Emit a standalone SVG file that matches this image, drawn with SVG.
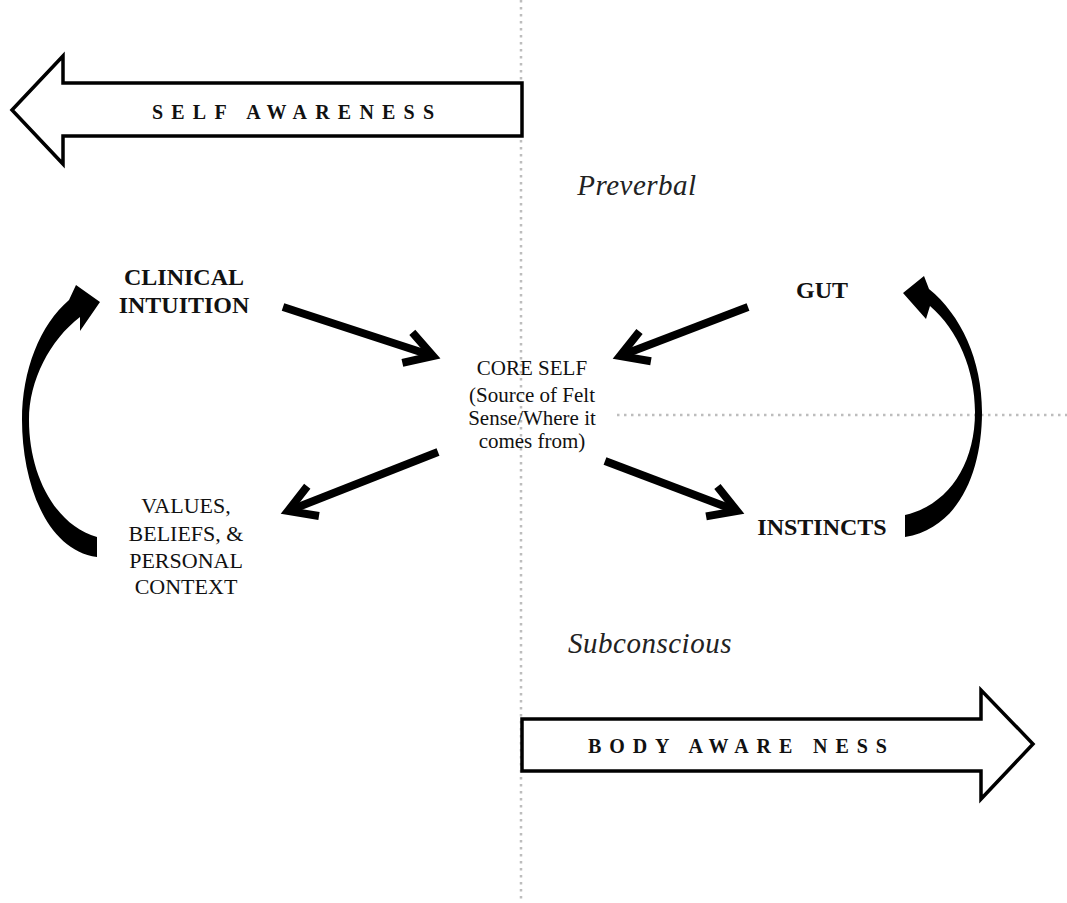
<svg xmlns="http://www.w3.org/2000/svg" width="1067" height="903" viewBox="0 0 1067 903">
<defs>
<style>
.t{font-family:"Liberation Serif","Times New Roman",serif;fill:#111}
.b{font-weight:bold}
.it{font-style:italic;fill:#222}
.dot{stroke:#bdbdbd;stroke-width:2.5;stroke-dasharray:2.5 4.5;fill:none}
.blk{fill:#fff;stroke:#000;stroke-width:3.5;stroke-linejoin:miter}
.ln{stroke:#000;stroke-width:8;fill:none;marker-end:url(#chev)}
.crv{fill:#000;stroke:none}
</style>
<marker id="chev" markerUnits="userSpaceOnUse" markerWidth="80" markerHeight="80" viewBox="-40 -40 80 80" refX="0" refY="0" orient="auto" overflow="visible">
<path d="M-27,-16 L0,0 L-27,16" fill="none" stroke="#000" stroke-width="8" stroke-linejoin="miter" stroke-linecap="butt"/>
</marker>
</defs>
<rect width="1067" height="903" fill="#fff"/>

<g id="guides">
<line class="dot" x1="521" y1="0" x2="521" y2="903"/>
<line class="dot" x1="617" y1="415" x2="1067" y2="415"/>
</g>

<g id="self-awareness">
<path class="blk" d="M12,110 L63,56 L63,83 L522,83 L522,136 L63,136 L63,164 Z"/>
<text class="t b" x="152" y="119" font-size="20" letter-spacing="8.2">SELF AWARENESS</text>
</g>

<g id="body-awareness">
<path class="blk" d="M522,719 L981,719 L981,690 L1033,744 L981,799 L981,771 L522,771 Z"/>
<text class="t b" x="588" y="753" font-size="20" letter-spacing="7.9">BODY AWARE NESS</text>
</g>

<g id="preverbal"><text class="t it" x="637" y="195" font-size="29" text-anchor="middle" letter-spacing="0.5">Preverbal</text></g>
<g id="subconscious"><text class="t it" x="650" y="653" font-size="29" text-anchor="middle" letter-spacing="0.5">Subconscious</text></g>

<g id="clinical-intuition">
<text class="t b" x="184" y="285" font-size="24" text-anchor="middle">CLINICAL</text>
<text class="t b" x="184" y="313" font-size="24" text-anchor="middle">INTUITION</text>
</g>

<g id="gut"><text class="t b" x="822" y="298" font-size="24" text-anchor="middle">GUT</text></g>

<g id="instincts"><text class="t b" x="822" y="535" font-size="24" text-anchor="middle">INSTINCTS</text></g>

<g id="values">
<text class="t" x="186" y="513" font-size="22" text-anchor="middle">VALUES,</text>
<text class="t" x="186" y="541" font-size="22" text-anchor="middle">BELIEFS, &amp;</text>
<text class="t" x="186" y="568" font-size="22" text-anchor="middle">PERSONAL</text>
<text class="t" x="186" y="594" font-size="22" text-anchor="middle">CONTEXT</text>
</g>

<g id="core-self">
<text class="t" x="532" y="375" font-size="21" text-anchor="middle">CORE SELF</text>
<text class="t" x="532" y="402" font-size="21" text-anchor="middle">(Source of Felt</text>
<text class="t" x="532" y="425" font-size="21" text-anchor="middle">Sense/Where it</text>
<text class="t" x="532" y="448" font-size="21" text-anchor="middle">comes from)</text>
</g>

<g id="connectors">
<line class="ln" x1="283" y1="307" x2="433" y2="356"/>
<line class="ln" x1="748" y1="307" x2="620" y2="356"/>
<line class="ln" x1="438" y1="452" x2="288" y2="511"/>
<line class="ln" x1="605" y1="461" x2="737" y2="511"/>
<path class="crv" d="M100,302 L80,331 L80,317 C50,340 29,380 29,420 C29,475 55,525 97,537 L97,557 C45,550 22,480 22,420 C22,370 40,325 69,300 L76,285 Z"/>
<path class="crv" d="M903,293 L924,276 L929,289 C961,315 982,360 982,412 C982,470 960,528 905,537 L905,515 C948,505 975,465 975,412 C975,370 958,330 930,306 L926,319 Z"/>
</g>
</svg>
